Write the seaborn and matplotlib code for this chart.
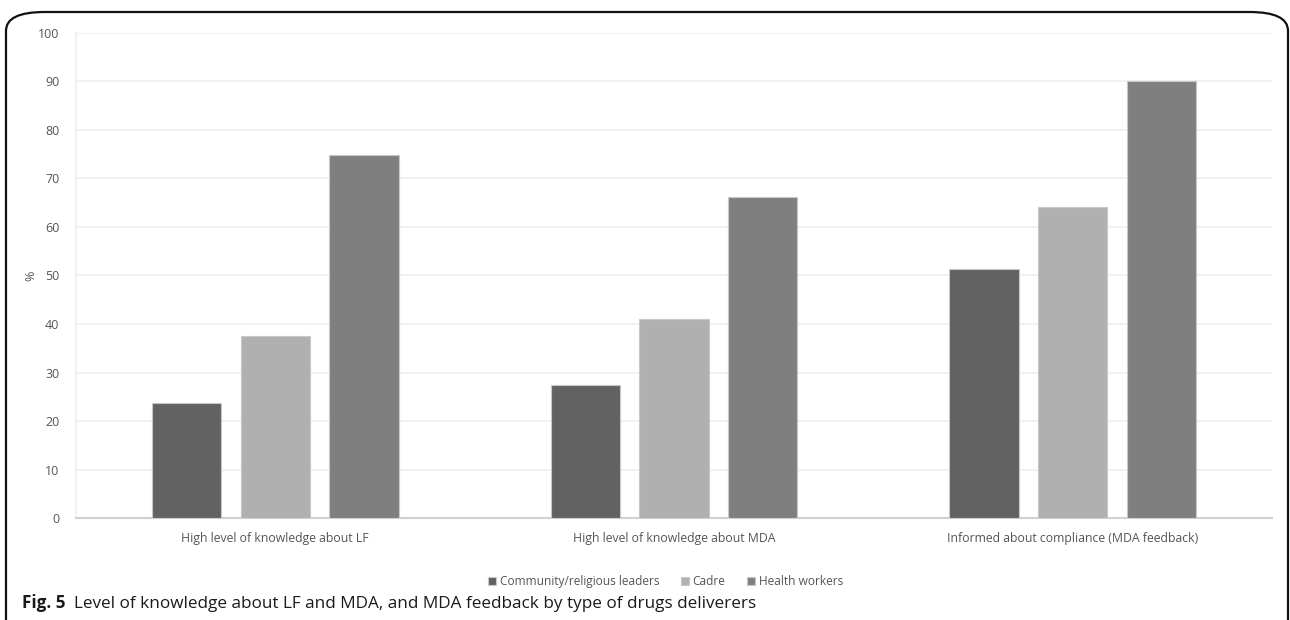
import matplotlib
matplotlib.use("Agg")
import matplotlib.pyplot as plt
from matplotlib.patches import FancyBboxPatch
import seaborn as sns
import pandas as pd

# Chart data
categories = [
    "High level of knowledge about LF",
    "High level of knowledge about MDA",
    "Informed about compliance (MDA feedback)",
]
groups = ["Community/religious leaders", "Cadre", "Health workers"]
leaders = [23.8, 27.4, 51.3]
cadre = [37.6, 41.1, 64.1]
health_workers = [74.8, 66.1, 90.0]
y_ticks = [0, 10, 20, 30, 40, 50, 60, 70, 80, 90, 100]

df = pd.DataFrame({
    "category": categories * 3,
    "group": [groups[0]] * 3 + [groups[1]] * 3 + [groups[2]] * 3,
    "value": leaders + cadre + health_workers,
})

sns.set_theme(style="white")
plt.rcParams["font.family"] = ["Open Sans", "DejaVu Sans"]

fig = plt.figure(figsize=(12.9, 6.2), dpi=100)
ax = fig.add_axes([0.0589, 0.1645, 0.9271, 0.7823])

palette = {groups[0]: "#626262", groups[1]: "#b0b0b0", groups[2]: "#7f7f7f"}
sns.barplot(
    data=df, x="category", y="value", hue="group", hue_order=groups,
    order=categories, palette=palette, width=0.667, gap=0.22,
    edgecolor="#c8c8c8", linewidth=0.8, saturation=1, ax=ax, zorder=3,
)

ax.set_ylim(0, 100)
ax.set_xlim(-0.5, 2.5)
ax.set_yticks(y_ticks)
ax.yaxis.grid(True, color="#efefef", linewidth=1.2, zorder=0)
ax.set_axisbelow(True)
for side in ["top", "right"]:
    ax.spines[side].set_visible(False)
ax.spines["left"].set_color("#efefef")
ax.spines["left"].set_linewidth(1.2)
ax.spines["bottom"].set_color("#d0d0d0")
ax.spines["bottom"].set_linewidth(1.5)
ax.tick_params(axis="y", labelsize=9, labelcolor="#555555", length=0, pad=12)
ax.tick_params(axis="x", labelsize=8.8, labelcolor="#555555", length=0, pad=10)
ax.set_xlabel("")
ax.set_ylabel("%", fontsize=9, color="#555555", labelpad=0.5)

leg = ax.legend(
    loc="upper center", bbox_to_anchor=(0.493, -0.095), ncol=3, frameon=False,
    fontsize=8.6, handlelength=0.65, handleheight=0.65, handletextpad=0.35,
    columnspacing=1.8, labelcolor="#555555",
)

# Caption
fig.text(0.017, 0.019, "Fig. 5", fontsize=12.3, fontweight="bold", color="#1a1a1a",
         va="baseline")
fig.text(0.0575, 0.019,
         "Level of knowledge about LF and MDA, and MDA feedback by type of drugs deliverers",
         fontsize=12.3, color="#1a1a1a", va="baseline")

# Rounded frame, open at the bottom edge
frame = FancyBboxPatch(
    (6 / 1290, -0.2), (1282 / 1290), 1.2 - 12 / 620,
    boxstyle="round,pad=0,rounding_size=0.03", transform=fig.transFigure,
    fill=False, edgecolor="#111111", linewidth=1.6, clip_on=False,
    mutation_aspect=620 / 1290 * 2.1,
)
fig.patches.append(frame)

fig.savefig("out.png", dpi=100)
